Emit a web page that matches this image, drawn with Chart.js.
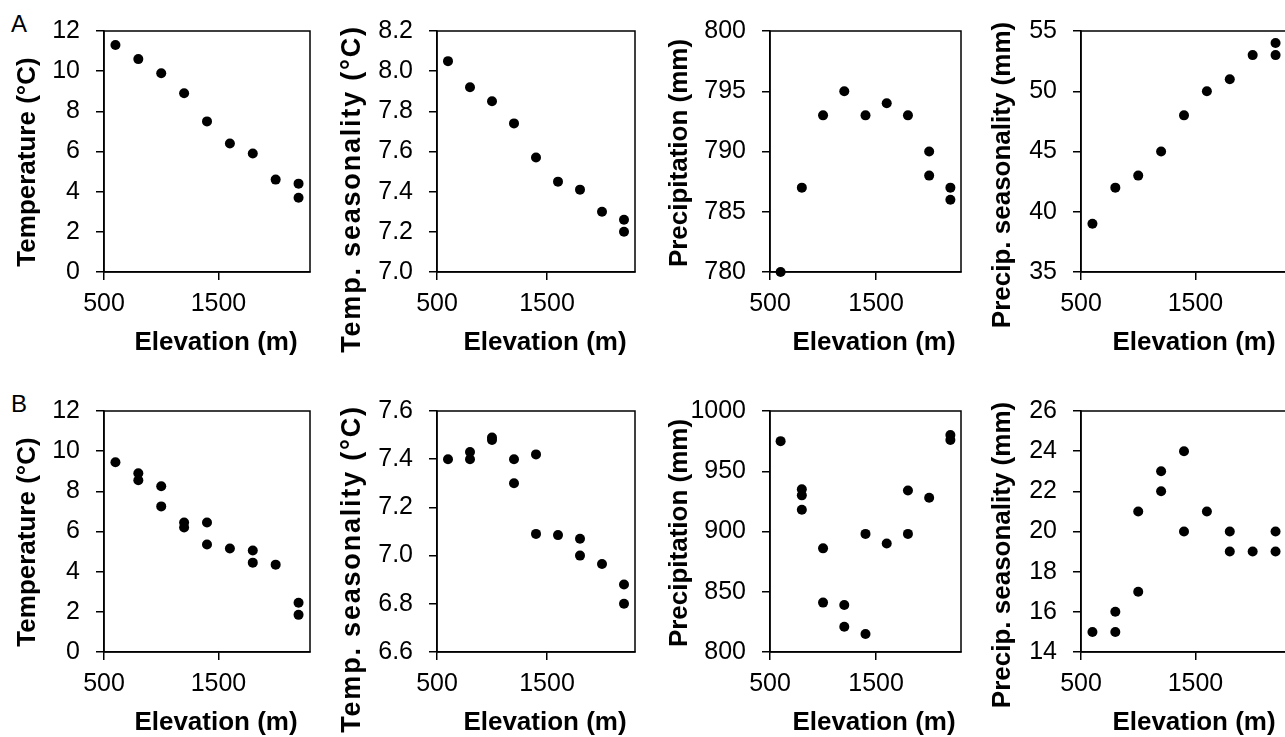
<!DOCTYPE html>
<html>
<head>
<meta charset="utf-8">
<script src="https://cdn.jsdelivr.net/npm/chart.js@4/dist/chart.umd.min.js"></script>
<style>
  html, body { margin: 0; padding: 0; background: #fff; overflow: hidden; }
  body { width: 1285px; height: 737px; position: relative; }
  .panel { position: absolute; }
  .letter { position: absolute; font: 24px "Liberation Sans", Arial, sans-serif; line-height: 1; color: #000; }
</style>
</head>
<body>
<div class="letter" style="left:11px;top:12px">A</div>
<div class="letter" style="left:11px;top:392px">B</div>
<script>
// elevation (m) of each sampled site, per panel
const xTicks = [500, 1500];

const elevA = [600, 800, 1000, 1200, 1400, 1600, 1800, 2000, 2200, 2200];
const tempA = [11.3, 10.6, 9.9, 8.9, 7.5, 6.4, 5.9, 4.6, 4.4, 3.7];
const tempSeasA = [8.05, 7.92, 7.85, 7.74, 7.57, 7.45, 7.41, 7.30, 7.26, 7.20];
const precipElevA = [600, 800, 1000, 1200, 1400, 1600, 1800, 2000, 2000, 2200, 2200];
const precipA = [780, 787, 793, 795, 793, 794, 793, 790, 788, 787, 786];
const precipSeasA = [39, 42, 43, 45, 48, 50, 51, 53, 54, 53];

const elevB = [600, 800, 800, 1000, 1000, 1200, 1200, 1400, 1400, 1600, 1800, 1800, 2000, 2200, 2200];
const tempB = [9.45, 8.9, 8.55, 8.25, 7.25, 6.45, 6.2, 6.45, 5.35, 5.15, 5.05, 4.45, 4.35, 2.45, 1.85];
const tempSeasB = [7.40, 7.43, 7.40, 7.49, 7.48, 7.40, 7.30, 7.42, 7.09, 7.085, 7.07, 7.00, 6.965, 6.88, 6.80];
const precipElevB = [600, 800, 800, 800, 1000, 1000, 1200, 1200, 1400, 1400, 1600, 1800, 1800, 2000, 2200, 2200];
const precipB = [975, 935, 930, 918, 886, 841, 839, 821, 898, 815, 890, 934, 898, 928, 980, 976];
const precipSeasB = [15, 16, 15, 21, 17, 23, 22, 24, 20, 21, 20, 19, 19, 20, 19];

const tempTicksA = [0, 2, 4, 6, 8, 10, 12];
const tempSeasTicksA = [7.0, 7.2, 7.4, 7.6, 7.8, 8.0, 8.2];
const precipTicksA = [780, 785, 790, 795, 800];
const precipSeasTicksA = [35, 40, 45, 50, 55];
const tempTicksB = [0, 2, 4, 6, 8, 10, 12];
const tempSeasTicksB = [6.6, 6.8, 7.0, 7.2, 7.4, 7.6];
const precipTicksB = [800, 850, 900, 950, 1000];
const precipSeasTicksB = [14, 16, 18, 20, 22, 24, 26];

const FONT = '"Liberation Sans", Arial, sans-serif';

// layout of the 4 columns and 2 rows (plot area edges, page px)
const colLeft = [104, 437, 770, 1081];
const colRight = [311, 636, 962, 1288];
const rowPlotTop = [23, 403];
const rowPlotBottom = [272, 652];
const rowCanvasTop = [0, 380];
const rowCanvasH = [365, 357];
const yAxisW = 110;

// title placement relative to plot area, per column
const yTitleDx = [76, 84, 90, 78];
const yTitleDy = [131, 158, 122, 144];
const yTitleSize = [26, 27, 26, 26];
const yTitleSpacing = [0, 1.8, 0, 0];
const xTitleDx = [112, 108, 104, 113];

const panels = [
  { row: 0, col: 0, x: elevA, y: tempA, ticks: tempTicksA, dec: 0, title: 'Temperature (°C)' },
  { row: 0, col: 1, x: elevA, y: tempSeasA, ticks: tempSeasTicksA, dec: 1, title: 'Temp. seasonality (°C)' },
  { row: 0, col: 2, x: precipElevA, y: precipA, ticks: precipTicksA, dec: 0, title: 'Precipitation (mm)' },
  { row: 0, col: 3, x: elevA, y: precipSeasA, ticks: precipSeasTicksA, dec: 0, title: 'Precip. seasonality (mm)' },
  { row: 1, col: 0, x: elevB, y: tempB, ticks: tempTicksB, dec: 0, title: 'Temperature (°C)' },
  { row: 1, col: 1, x: elevB, y: tempSeasB, ticks: tempSeasTicksB, dec: 1, title: 'Temp. seasonality (°C)' },
  { row: 1, col: 2, x: precipElevB, y: precipB, ticks: precipTicksB, dec: 0, title: 'Precipitation (mm)' },
  { row: 1, col: 3, x: elevB, y: precipSeasB, ticks: precipSeasTicksB, dec: 0, title: 'Precip. seasonality (mm)' }
];

// box around the plot + axis titles
const framePlugin = {
  id: 'frame',
  afterDraw(chart, args, opts) {
    const { ctx, chartArea: a } = chart;
    ctx.save();
    ctx.strokeStyle = '#000';
    ctx.lineWidth = 1.5;
    ctx.strokeRect(a.left, a.top, a.right - a.left, a.bottom - a.top);
    ctx.fillStyle = '#000';
    ctx.font = 'bold 26px ' + FONT;
    ctx.textAlign = 'center';
    ctx.textBaseline = 'middle';
    ctx.fillText(opts.xTitle, a.left + opts.xDx, a.bottom + opts.xDy);
    ctx.translate(a.left - opts.yDx, a.top + opts.yDy);
    ctx.rotate(-Math.PI / 2);
    ctx.font = 'bold ' + opts.ySize + 'px ' + FONT;
    if (opts.spacing) ctx.letterSpacing = opts.spacing + 'px';
    ctx.fillText(opts.yTitle, 0, 0);
    ctx.restore();
  }
};

panels.forEach(p => {
  const left = colLeft[p.col] - yAxisW;
  const width = colRight[p.col] - colLeft[p.col] + yAxisW + 4;
  const top = rowCanvasTop[p.row];
  const height = rowCanvasH[p.row];
  const padTop = rowPlotTop[p.row] - top;
  const xAxisH = height - (rowPlotBottom[p.row] - top);

  const div = document.createElement('div');
  div.className = 'panel';
  div.style.left = left + 'px';
  div.style.top = top + 'px';
  div.style.width = width + 'px';
  div.style.height = height + 'px';
  const canvas = document.createElement('canvas');
  canvas.width = width;
  canvas.height = height;
  div.appendChild(canvas);
  document.body.appendChild(div);

  new Chart(canvas.getContext('2d'), {
    type: 'scatter',
    data: {
      datasets: [{
        data: p.x.map((v, i) => ({ x: v, y: p.y[i] })),
        backgroundColor: '#000',
        borderWidth: 0,
        pointRadius: 5,
        pointHoverRadius: 5,
        clip: false
      }]
    },
    options: {
      responsive: false,
      animation: false,
      devicePixelRatio: 1,
      layout: { padding: { left: 0, right: 4, top: padTop, bottom: 0 } },
      plugins: {
        legend: { display: false },
        tooltip: { enabled: false },
        frame: {
          xTitle: 'Elevation (m)', xDx: xTitleDx[p.col], xDy: 71,
          yTitle: p.title, yDx: yTitleDx[p.col], yDy: yTitleDy[p.col],
          ySize: yTitleSize[p.col], spacing: yTitleSpacing[p.col]
        }
      },
      scales: {
        x: {
          type: 'linear',
          min: 500,
          max: 2300,
          afterBuildTicks: s => { s.ticks = xTicks.map(v => ({ value: v })); },
          afterFit: s => { s.height = xAxisH; },
          grid: { drawOnChartArea: false, drawTicks: true, tickLength: 8, color: '#000', lineWidth: 1.5 },
          border: { display: true, color: '#000', width: 1.5 },
          ticks: { color: '#000', padding: 9, font: { family: FONT, size: 25 }, maxRotation: 0, callback: v => String(v) }
        },
        y: {
          type: 'linear',
          min: p.ticks[0],
          max: p.ticks[p.ticks.length - 1],
          afterBuildTicks: s => { s.ticks = p.ticks.map(v => ({ value: v })); },
          afterFit: s => { s.width = yAxisW; },
          grid: { drawOnChartArea: false, drawTicks: true, tickLength: 8, color: '#000', lineWidth: 1.5 },
          border: { display: true, color: '#000', width: 1.5 },
          ticks: { color: '#000', padding: 16, font: { family: FONT, size: 25 }, callback: v => Number(v).toFixed(p.dec) }
        }
      }
    },
    plugins: [framePlugin]
  });
});
</script>
</body>
</html>
